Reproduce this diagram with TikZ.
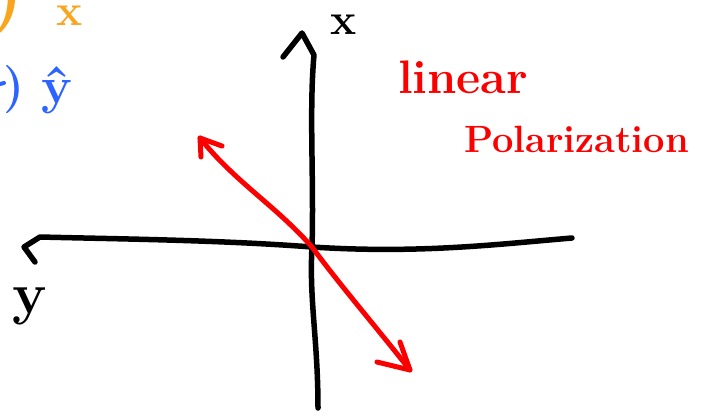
\documentclass[tikz,border=0pt]{standalone}
\usepackage{fontspec}
\usetikzlibrary{calc}
\definecolor{inkorange}{RGB}{250,165,30}
\definecolor{inkblue}{RGB}{45,100,255}
\definecolor{inkred}{RGB}{250,0,0}
\begin{document}
\begin{tikzpicture}[x=1pt,y=-1pt,line cap=round,line join=round,
  axis/.style={line width=5.5pt,black},
  pol/.style={line width=5pt,inkred},
  lbl/.style={inner sep=0pt,outer sep=0pt}]
\useasboundingbox (0,0) rectangle (702,416);
\fill[white] (0,0) rectangle (702,416);
% coordinates
\coordinate (ytop) at (302,33);
\coordinate (ybot) at (318,408);
\coordinate (xl) at (24,247);
\coordinate (xr) at (572,238);
\coordinate (o) at (312,247);
\coordinate (pa) at (200,138);
\coordinate (pb) at (410,370);
\coordinate (ytopL) at (283,57);
\coordinate (ytopR) at (314,55);
\coordinate (xlU) at (40,237);
\coordinate (xlD) at (35,262);
\coordinate (paR) at (222,146);
\coordinate (paD) at (201,157);
\coordinate (pbU) at (400,342);
\coordinate (pbL) at (377,362);
% vertical axis
\draw[axis] (ybot) .. controls (318,340) and (309,300) .. (o)
  .. controls (314,180) and (309,110) .. (ytopR) -- (ytop) -- (ytopL);
% horizontal axis
\draw[axis] (xr) .. controls (500,244) and (420,254) .. (o)
  .. controls (220,240) and (120,239) .. (xlU) -- (xl) -- (xlD);
% polarization vector
\draw[pol] (pa) .. controls (235,182) and (275,205) .. (o)
  .. controls (340,285) and (372,322) .. (pb);
\draw[pol] (paR) -- (pa) -- (paD);
\draw[pol] (pbU) -- (pb) -- (pbL);
% labels
\node[lbl,font=\fontsize{44}{44}\selectfont\bfseries] (lx) at (344,25) {x};
\node[lbl,font=\fontsize{58}{58}\selectfont\bfseries] (ly) at (30,306) {y};
\node[lbl,text=inkred,anchor=base west,font=\fontsize{47}{47}\selectfont\bfseries] (t1) at (398,93) {linear};
\node[lbl,text=inkred,anchor=base west,font=\fontsize{38}{38}\selectfont\bfseries] (t2) at (464,152) {Polarization};
% partial labels at top left
\node[lbl,text=inkorange,anchor=south east,font=\fontsize{80}{80}\selectfont\bfseries] (po) at (25,37) {)};
\node[lbl,text=inkorange,font=\fontsize{44}{44}\selectfont\bfseries] (ox) at (70,16) {x};
\node[lbl,text=inkblue,anchor=south east,font=\fontsize{48}{48}\selectfont\bfseries] (pbl) at (25,114) {)};
\node[lbl,text=inkblue,font=\fontsize{52}{52}\selectfont\bfseries] (by) at (57,90) {\^y};
\coordinate (bd1) at (0,84);
\coordinate (bd2) at (4,83);
\draw[inkblue,line width=4pt] (bd1) -- (bd2);
\end{tikzpicture}
\end{document}
